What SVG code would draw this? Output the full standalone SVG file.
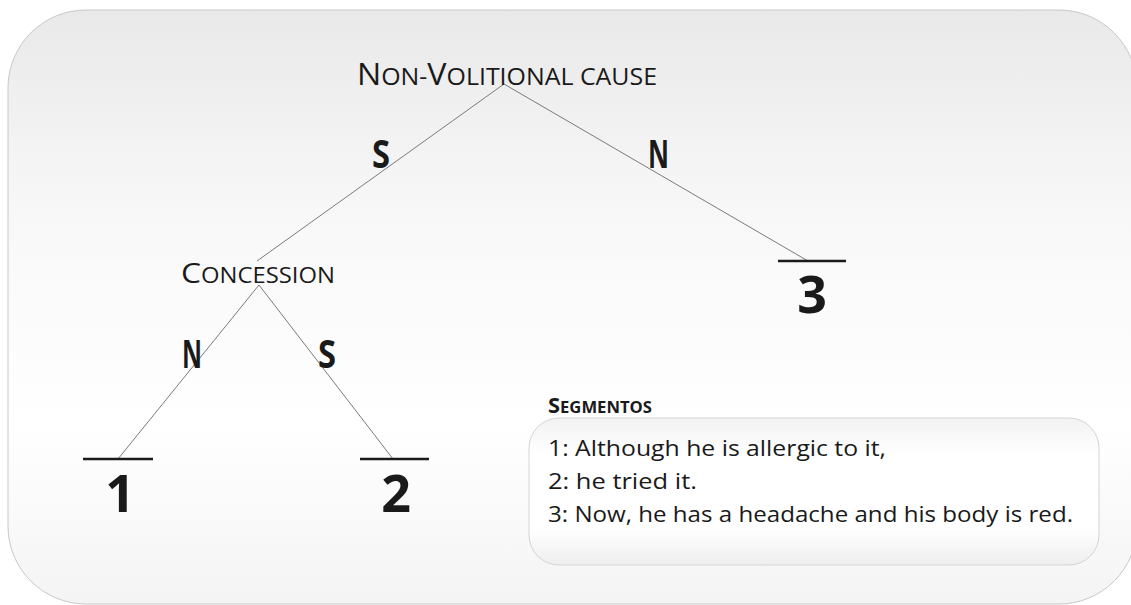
<svg xmlns="http://www.w3.org/2000/svg" width="1131" height="605" viewBox="0 0 1131 605">
<defs>
<linearGradient id="bg" x1="0" y1="0" x2="0" y2="1">
<stop offset="0" stop-color="#e9e9e9"/>
<stop offset="0.35" stop-color="#f8f8f8"/>
<stop offset="0.7" stop-color="#ffffff"/>
<stop offset="1" stop-color="#f4f4f4"/>
</linearGradient>
<linearGradient id="box" x1="0" y1="0" x2="0" y2="1">
<stop offset="0" stop-color="#f2f2f2"/>
<stop offset="0.25" stop-color="#ffffff"/>
<stop offset="0.75" stop-color="#ffffff"/>
<stop offset="1" stop-color="#eeeeee"/>
</linearGradient>
<style>
.t{font-family:"Open Sans","Liberation Sans",sans-serif;fill:#1a1a1a}
.lab{font-family:"Open Sans","Liberation Sans",sans-serif;font-weight:700;font-size:39px;fill:#1a1a1a}
.num{font-family:"Open Sans","Liberation Sans",sans-serif;font-weight:700;font-size:52px;fill:#1a1a1a;text-anchor:middle}
.edge{stroke:#7a7a7a;stroke-width:1;fill:none}
.bar{stroke:#1a1a1a;stroke-width:2.5}
.seg{font-family:"Open Sans","Liberation Sans",sans-serif;font-size:22px;fill:#1a1a1a}
</style>
</defs>
<rect x="8" y="10" width="1129" height="594" rx="78" fill="url(#bg)" stroke="#c8c8c8" stroke-width="1"/>
<g id="connectors">
<line class="edge" x1="504" y1="84" x2="257" y2="261"/>
<line class="edge" x1="504" y1="84" x2="808" y2="261"/>
<line class="edge" x1="259" y1="285" x2="118" y2="459"/>
<line class="edge" x1="259" y1="285" x2="393" y2="459"/>
<text class="lab" x="372" y="168" textLength="18" lengthAdjust="spacingAndGlyphs">S</text>
<text class="lab" x="648" y="168" textLength="21" lengthAdjust="spacingAndGlyphs">N</text>
<text class="lab" x="182" y="368" textLength="20" lengthAdjust="spacingAndGlyphs">N</text>
<text class="lab" x="318" y="368" textLength="18" lengthAdjust="spacingAndGlyphs">S</text>
</g>
<g id="root">
<text class="t" x="357" y="85" textLength="300" lengthAdjust="spacingAndGlyphs"><tspan font-size="31">N</tspan><tspan font-size="24">ON-</tspan><tspan font-size="31">V</tspan><tspan font-size="24">OLITIONAL CAUSE</tspan></text>
</g>
<g id="concession">
<text class="t" x="181" y="283" textLength="154" lengthAdjust="spacingAndGlyphs"><tspan font-size="28">C</tspan><tspan font-size="21">ONCESSION</tspan></text>
</g>
<g id="leaf1">
<line class="bar" x1="83" y1="459" x2="153" y2="459"/>
<text class="num" x="120" y="512">1</text>
</g>
<g id="leaf2">
<line class="bar" x1="360" y1="459" x2="429" y2="459"/>
<text class="num" x="396" y="512">2</text>
</g>
<g id="leaf3">
<line class="bar" x1="778" y1="261" x2="846" y2="261"/>
<text class="num" x="812" y="313">3</text>
</g>
<g id="segmentos">
<text class="t" x="548" y="413" font-weight="700" textLength="104" lengthAdjust="spacingAndGlyphs"><tspan font-size="21">S</tspan><tspan font-size="16">EGMENTOS</tspan></text>
<rect x="529" y="418" width="570" height="147" rx="30" fill="url(#box)" stroke="#d4d4d4" stroke-width="1"/>
<text class="seg" x="548" y="456" textLength="338" lengthAdjust="spacingAndGlyphs">1: Although he is allergic to it,</text>
<text class="seg" x="548" y="489" textLength="149" lengthAdjust="spacingAndGlyphs">2: he tried it.</text>
<text class="seg" x="548" y="522" textLength="525" lengthAdjust="spacingAndGlyphs">3: Now, he has a headache and his body is red.</text>
</g>
</svg>
